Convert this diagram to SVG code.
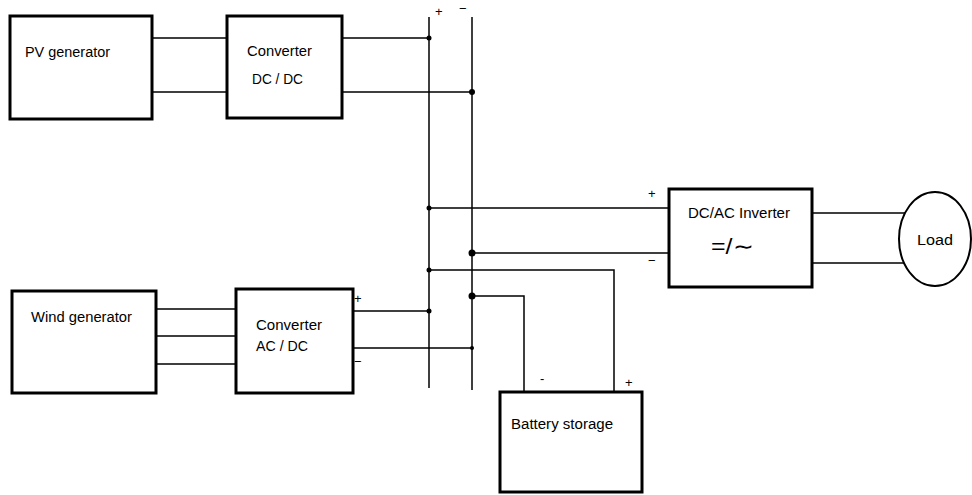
<svg xmlns="http://www.w3.org/2000/svg" width="972" height="495" viewBox="0 0 972 495">
<style>
.box{fill:#fff;stroke:#000;stroke-width:3}
.w{fill:none;stroke:#000;stroke-width:1.5}
.t{font-family:"Liberation Sans",Arial,sans-serif;font-size:14px;fill:#000}
.s{font-family:"Liberation Sans",Arial,sans-serif;font-size:13px;fill:#000}
</style>
<rect width="972" height="495" fill="#fff"/>
<g id="connectors">
<path class="w" d="M152 38H227M152 92H227"/>
<path class="w" d="M342 38H429M342 92H472"/>
<path class="w" d="M429 17V388M472 17V390"/>
<path class="w" d="M429 208H669M472 253H669"/>
<path class="w" d="M429 270H614V392M472 296H524V392"/>
<path class="w" d="M156 309H236M156 336H236M156 364H236"/>
<path class="w" d="M353 311H429M353 348H472"/>
<path class="w" d="M812 213H905M812 263H905"/>
<circle cx="429" cy="38" r="2.5"/>
<circle cx="472" cy="92" r="3"/>
<circle cx="429" cy="208" r="2.5"/>
<circle cx="472" cy="253" r="3.5"/>
<circle cx="429" cy="270" r="2.5"/>
<circle cx="472" cy="296" r="3.5"/>
<circle cx="429" cy="311" r="2.5"/>
<circle cx="472" cy="348" r="2"/>
<text class="s" x="435" y="16">+</text>
<text class="s" x="459" y="13">−</text>
<text class="s" x="648" y="198">+</text>
<text class="s" x="648" y="265">−</text>
<text class="s" x="354" y="303">+</text>
<text class="s" x="354" y="366">−</text>
<text class="s" x="540" y="383">-</text>
<text class="s" x="625" y="387">+</text>
</g>
<g id="pv">
<rect class="box" x="10" y="16" width="142" height="103"/>
<text class="t" x="25" y="57" textLength="85" lengthAdjust="spacingAndGlyphs">PV generator</text>
</g>
<g id="dcdc">
<rect class="box" x="227" y="16" width="115" height="102"/>
<text class="t" x="247" y="56" textLength="65" lengthAdjust="spacingAndGlyphs">Converter</text>
<text class="t" x="252" y="84" textLength="51" lengthAdjust="spacingAndGlyphs">DC / DC</text>
</g>
<g id="wind">
<rect class="box" x="12" y="291" width="144" height="102"/>
<text class="t" x="31" y="322" textLength="101" lengthAdjust="spacingAndGlyphs">Wind generator</text>
</g>
<g id="acdc">
<rect class="box" x="236" y="289" width="117" height="104"/>
<text class="t" x="256" y="330" textLength="66" lengthAdjust="spacingAndGlyphs">Converter</text>
<text class="t" x="256" y="351" textLength="52" lengthAdjust="spacingAndGlyphs">AC / DC</text>
</g>
<g id="inverter">
<rect class="box" x="669" y="189" width="143" height="98"/>
<text class="t" x="688" y="218" textLength="102" lengthAdjust="spacingAndGlyphs">DC/AC  Inverter</text>
<text class="t" x="711" y="254" style="font-size:22px" textLength="42" lengthAdjust="spacingAndGlyphs">=/∼</text>
</g>
<g id="battery">
<rect class="box" x="500" y="392" width="142" height="100"/>
<text class="t" x="511" y="429" textLength="102" lengthAdjust="spacingAndGlyphs">Battery storage</text>
</g>
<g id="load">
<ellipse cx="935" cy="239" rx="36" ry="47" fill="#fff" stroke="#000" stroke-width="2"/>
<text class="t" x="917" y="245" textLength="36" lengthAdjust="spacingAndGlyphs">Load</text>
</g>
</svg>
